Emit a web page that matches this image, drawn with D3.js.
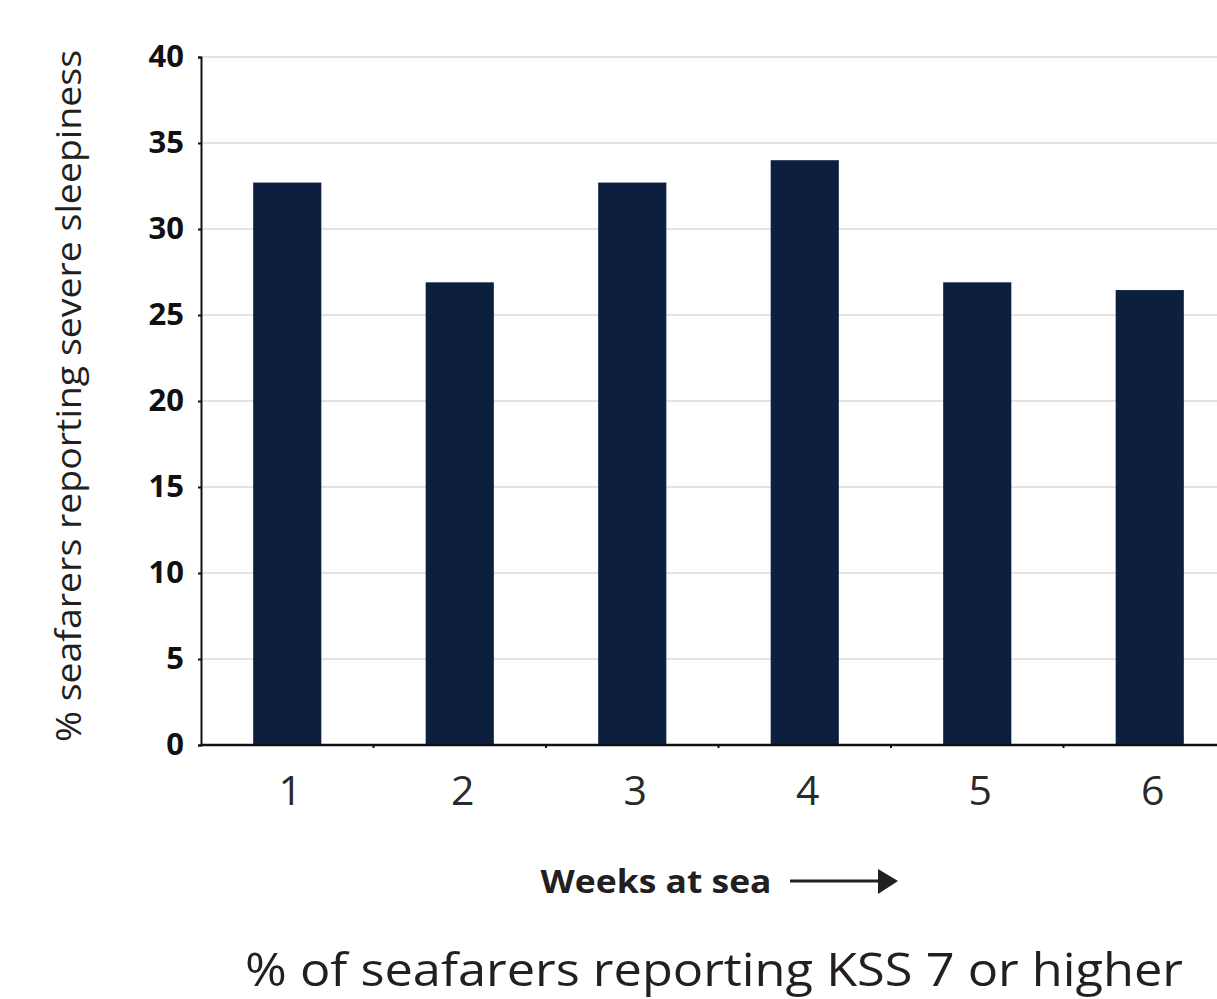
<!DOCTYPE html>
<html><head><meta charset="utf-8">
<script src="https://cdn.jsdelivr.net/npm/d3@7"></script>
<style>html,body{margin:0;padding:0;background:#fff;}svg{display:block;}</style>
</head><body>
<svg id="chart" width="1217" height="999"></svg>
<script>
const categories = ["1","2","3","4","5","6"];
const values = [32.7, 26.9, 32.7, 34.0, 26.9, 26.45];
const yTicks = [0,5,10,15,20,25,30,35,40];
const yTitle = "% seafarers reporting severe sleepiness";
const xTitle = "Weeks at sea";
const chartTitle = "% of seafarers reporting KSS 7 or higher";

const svg = d3.select("#chart");
const x0 = 201, yBase = 745, yTop = 57;
const x = d3.scaleBand().domain(categories).range([x0, x0 + 6*172.5]).paddingInner(0.605).paddingOuter(0.3025);
const y = d3.scaleLinear().domain([0,40]).range([yBase, yTop]);

// gridlines
svg.append("g").selectAll("line").data(yTicks.filter(d=>d>0)).join("line")
  .attr("x1", x0).attr("x2", 1217).attr("y1", d=>y(d)).attr("y2", d=>y(d))
  .attr("stroke", "#e3e3e3").attr("stroke-width", 2);

// bars
svg.append("g").selectAll("rect").data(values).join("rect")
  .attr("x", (d,i)=>x(categories[i])).attr("width", x.bandwidth())
  .attr("y", d=>y(d)).attr("height", d=>yBase - y(d))
  .attr("fill", "#0c1f3f");

// y axis
const yAxis = svg.append("g").attr("transform", `translate(${x0},0)`)
  .call(d3.axisLeft(y).tickValues(yTicks).tickSize(3).tickPadding(14));
yAxis.select(".domain").attr("stroke", "#111").attr("stroke-width", 2);
yAxis.selectAll(".tick line").attr("stroke", "#111").attr("stroke-width", 2);
yAxis.selectAll("text").attr("font-family", "'Noto Sans', 'Open Sans', sans-serif")
  .attr("font-weight", "bold").attr("font-size", 31).attr("fill", "#111");

// x axis line and boundary ticks
svg.append("line").attr("x1", x0).attr("x2", 1217).attr("y1", yBase).attr("y2", yBase)
  .attr("stroke", "#111").attr("stroke-width", 2.5);
const bounds = categories.slice(1).map(c => x(c) - x.step()*x.paddingInner()/2);
svg.append("g").selectAll("line").data(bounds).join("line")
  .attr("x1", d=>d).attr("x2", d=>d).attr("y1", yBase).attr("y2", yBase+3)
  .attr("stroke", "#111").attr("stroke-width", 2);

// x labels
svg.append("g").selectAll("text").data(categories).join("text")
  .attr("x", d=>x(d)+x.bandwidth()/2+3).attr("y", 805)
  .attr("text-anchor", "middle")
  .attr("font-family", "'Open Sans', 'Noto Sans', sans-serif").attr("font-size", 41)
  .attr("fill", "#2a2a2a").text(d=>d);

// x title + arrow
svg.append("text").attr("x", 656).attr("y", 893).attr("text-anchor", "middle")
  .attr("font-family", "'Open Sans', 'Noto Sans', sans-serif").attr("font-weight", "bold")
  .attr("font-size", 33).attr("textLength", 231).attr("lengthAdjust", "spacingAndGlyphs")
  .attr("fill", "#231f20").text(xTitle);
svg.append("line").attr("x1", 790).attr("x2", 880).attr("y1", 881).attr("y2", 881)
  .attr("stroke", "#231f20").attr("stroke-width", 3);
svg.append("path").attr("d", "M878,869 L898,881 L878,894 Z").attr("fill", "#231f20");

// y title
svg.append("text").attr("transform", "translate(81,396) rotate(-90)")
  .attr("text-anchor", "middle")
  .attr("font-family", "'Open Sans', 'Noto Sans', sans-serif").attr("font-size", 34)
  .attr("textLength", 692).attr("lengthAdjust", "spacingAndGlyphs")
  .attr("fill", "#231f20").text(yTitle);

// chart title
svg.append("text").attr("x", 714).attr("y", 986).attr("text-anchor", "middle")
  .attr("font-family", "'Open Sans', 'Noto Sans', sans-serif").attr("font-size", 46)
  .attr("textLength", 938).attr("lengthAdjust", "spacingAndGlyphs")
  .attr("fill", "#231f20").text(chartTitle);
</script>
</body></html>
